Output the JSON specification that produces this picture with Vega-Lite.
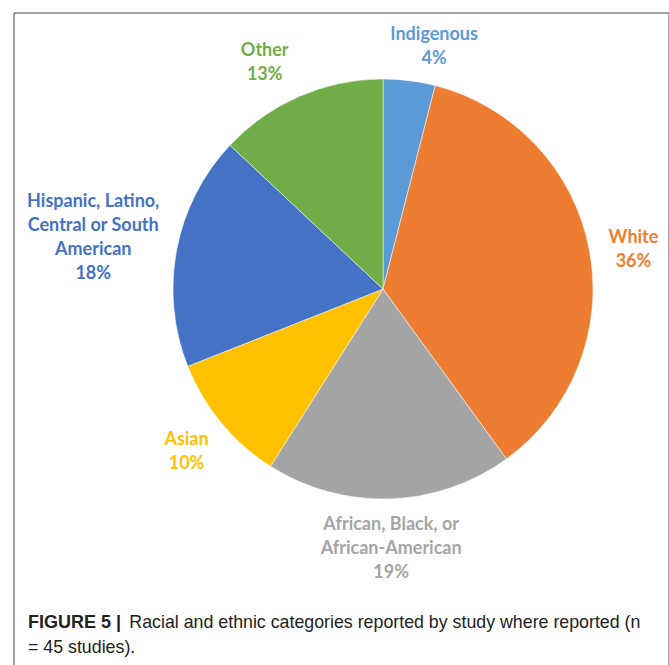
{
  "$schema": "https://vega.github.io/schema/vega-lite/v6.json",
  "width": 655,
  "height": 660,
  "padding": {"left": 13, "top": 12, "right": 0, "bottom": 0},
  "background": "white",
  "config": {"view": {"stroke": null}},
  "title": {
    "text": "FIGURE 5 |",
    "subtitle": ["\u200b\u2003\u2003\u2003\u2003\u2003\u2002\u2009Racial and ethnic categories reported by study where reported (n", "= 45 studies)."],
    "orient": "bottom",
    "anchor": "start",
    "frame": "group",
    "offset": -60,
    "dx": 14,
    "font": "Liberation Sans",
    "fontSize": 18,
    "fontWeight": "bold",
    "color": "#222222",
    "subtitleFont": "Liberation Sans",
    "subtitleFontSize": 17.8,
    "subtitleFontWeight": "normal",
    "subtitleColor": "#222222",
    "subtitleLineHeight": 25,
    "subtitlePadding": -18
  },
  "data": {
    "values": [
      {"category": "Indigenous", "value": 4, "label": "Indigenous\n4%"},
      {"category": "White", "value": 36, "label": "White\n36%"},
      {"category": "African, Black, or African-American", "value": 19, "label": "African, Black, or\nAfrican-American\n19%"},
      {"category": "Asian", "value": 10, "label": "Asian\n10%"},
      {"category": "Hispanic, Latino, Central or South American", "value": 18, "label": "Hispanic, Latino,\nCentral or South\nAmerican\n18%"},
      {"category": "Other", "value": 13, "label": "Other\n13%"}
    ]
  },
  "transform": [
    {"window": [{"op": "row_number", "as": "rank"}]},
    {"stack": "value", "groupby": [], "sort": [{"field": "rank", "order": "ascending"}], "as": ["v0", "v1"]},
    {"calculate": "(datum.v0 + datum.v1) / 2", "as": "mid"}
  ],
  "encoding": {
    "color": {
      "field": "category",
      "type": "nominal",
      "legend": null,
      "scale": {
        "domain": ["Indigenous", "White", "African, Black, or African-American", "Asian", "Hispanic, Latino, Central or South American", "Other"],
        "range": ["#5B9BD5", "#ED7D31", "#A5A5A5", "#FFC000", "#4472C4", "#70AD47"]
      }
    }
  },
  "layer": [
    {
      "data": {"values": [{"frame": "box"}]},
      "transform": [],
      "mark": {"type": "rect", "fill": "#ffffff", "fillOpacity": 0, "stroke": "#444444", "strokeWidth": 1},
      "encoding": {"color": {"value": "#ffffff"}}
    },
    {
      "mark": {"type": "arc", "x": 369, "y": 276, "outerRadius": 210, "stroke": "#ffffff", "strokeWidth": 0.5},
      "encoding": {
        "theta": {"field": "v0", "type": "quantitative", "stack": null, "scale": {"domain": [0, 100]}},
        "theta2": {"field": "v1"}
      }
    },
    {
      "transform": [{"filter": {"field": "category", "equal": "Asian"}}],
      "mark": {"type": "text", "x": 369, "y": 276, "radius": 255, "dy": -12, "font": "Lato", "fontSize": 18, "fontWeight": "bold", "lineHeight": 24, "lineBreak": "\n", "align": "center", "baseline": "middle"},
      "encoding": {
        "theta": {"field": "mid", "type": "quantitative", "stack": null},
        "text": {"field": "label", "type": "nominal"}
      }
    },
    {
      "transform": [{"filter": {"field": "category", "equal": "White"}}],
      "mark": {"type": "text", "x": 369, "y": 276, "radius": 255, "dy": -3, "font": "Lato", "fontSize": 18, "fontWeight": "bold", "lineHeight": 24, "lineBreak": "\n", "align": "center", "baseline": "middle"},
      "encoding": {
        "theta": {"field": "mid", "type": "quantitative", "stack": null},
        "text": {"field": "label", "type": "nominal"}
      }
    },
    {
      "transform": [{"filter": {"field": "category", "equal": "Other"}}],
      "mark": {"type": "text", "x": 369, "y": 276, "radius": 250, "dx": -19, "dy": -9, "font": "Lato", "fontSize": 18, "fontWeight": "bold", "lineHeight": 24, "lineBreak": "\n", "align": "center", "baseline": "middle"},
      "encoding": {
        "theta": {"field": "mid", "type": "quantitative", "stack": null},
        "text": {"field": "label", "type": "nominal"}
      }
    },
    {
      "transform": [{"filter": {"field": "category", "equal": "Indigenous"}}],
      "mark": {"type": "text", "x": 369, "y": 276, "radius": 248, "dx": 20, "dy": -8, "font": "Lato", "fontSize": 18, "fontWeight": "bold", "lineHeight": 24, "lineBreak": "\n", "align": "center", "baseline": "middle"},
      "encoding": {
        "theta": {"field": "mid", "type": "quantitative", "stack": null},
        "text": {"field": "label", "type": "nominal"}
      }
    },
    {
      "transform": [{"filter": {"field": "category", "equal": "African, Black, or African-American"}}],
      "mark": {"type": "text", "x": 369, "y": 276, "radius": 260, "dy": -24, "font": "Lato", "fontSize": 18, "fontWeight": "bold", "lineHeight": 24, "lineBreak": "\n", "align": "center", "baseline": "middle"},
      "encoding": {
        "theta": {"field": "mid", "type": "quantitative", "stack": null},
        "text": {"field": "label", "type": "nominal"}
      }
    },
    {
      "transform": [{"filter": {"field": "category", "equal": "Hispanic, Latino, Central or South American"}}],
      "mark": {"type": "text", "x": 369, "y": 276, "radius": 295, "dy": -32, "font": "Lato", "fontSize": 18, "fontWeight": "bold", "lineHeight": 24, "lineBreak": "\n", "align": "center", "baseline": "middle"},
      "encoding": {
        "theta": {"field": "mid", "type": "quantitative", "stack": null},
        "text": {"field": "label", "type": "nominal"}
      }
    }
  ]
}
